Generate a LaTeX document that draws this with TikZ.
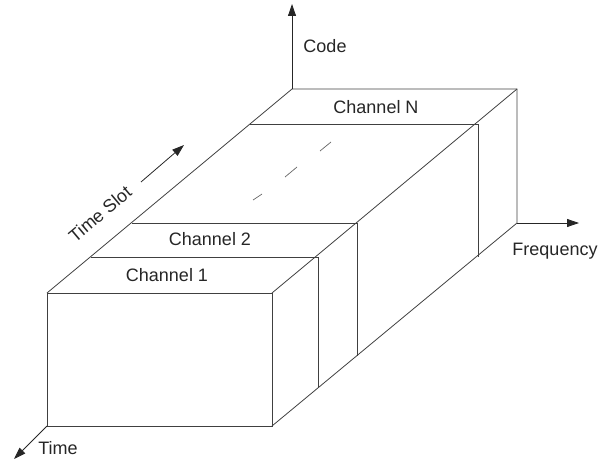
\documentclass[tikz,border=0pt]{standalone}
\usepackage{fontspec}
\setmainfont{Liberation Sans}
\usetikzlibrary{arrows.meta}
\begin{document}
\begin{tikzpicture}[x=1pt,y=-1pt,
  edge/.style={draw=black!75,line width=0.8pt,line join=miter},
  axis/.style={draw=black!85,line width=0.8pt,-{Triangle[length=12pt,width=8pt]}},
  lbl/.style={font=\fontsize{18}{20}\selectfont,text=black!85,inner sep=0pt},
  dashmark/.style={draw=black!60,line width=0.7pt}]
\useasboundingbox (0,0) rectangle (602,460);
% corners
\coordinate (FTL) at (47,293);
\coordinate (FTR) at (272,293);
\coordinate (FBL) at (47,426);
\coordinate (FBR) at (272,426);
\coordinate (BTL) at (292,89);
\coordinate (BTR) at (517,89);
\coordinate (BBR) at (517,223);
% channel 1
\coordinate (C1L) at (91,257);
\coordinate (C1R) at (318,257);
\coordinate (C1B) at (318,388);
% channel 2
\coordinate (C2L) at (132,223);
\coordinate (C2R) at (357,223);
\coordinate (C2B) at (357,356);
% channel N
\coordinate (CNL) at (250,124);
\coordinate (CNR) at (478,124);
\coordinate (CNB) at (478,257);
% axes ends
\coordinate (CodeEnd) at (292,4);
\coordinate (FreqEnd) at (579,223);
\coordinate (TimeEnd) at (14,459);
\coordinate (TSs) at (141,182);
\coordinate (TSe) at (184,145);
% box
\draw[edge] (FTL) rectangle (FBR);
\draw[edge] (FTL) -- (BTL) -- (BTR) -- (BBR) -- (FBR);
\draw[edge] (BTR) -- (FTR);
% channels
\draw[edge] (C1L) -- (C1R) -- (C1B);
\draw[edge] (C2L) -- (C2R) -- (C2B);
\draw[edge] (CNL) -- (CNR) -- (CNB);
% dashes
\draw[dashmark] (253,200) -- (262,194);
\draw[dashmark] (285,177) -- (297,167);
\draw[dashmark] (320,151) -- (331,142);
% axes
\draw[axis] (BTL) -- (CodeEnd);
\draw[axis] (BBR) -- (FreqEnd);
\draw[axis] (FBL) -- (TimeEnd);
\draw[axis] (TSs) -- (TSe);
% labels
\node[lbl] (code) at (325,46) {Code};
\node[lbl] (chN) at (376,107) {Channel N};
\node[lbl] (ch2) at (210,239) {Channel 2};
\node[lbl] (ch1) at (167,275) {Channel 1};
\node[lbl] (freq) at (555,251) {Frequency};
\node[lbl] (time) at (58,448) {Time};
\node[lbl,rotate=40] (ts) at (100,214) {Time Slot};
\end{tikzpicture}
\end{document}
